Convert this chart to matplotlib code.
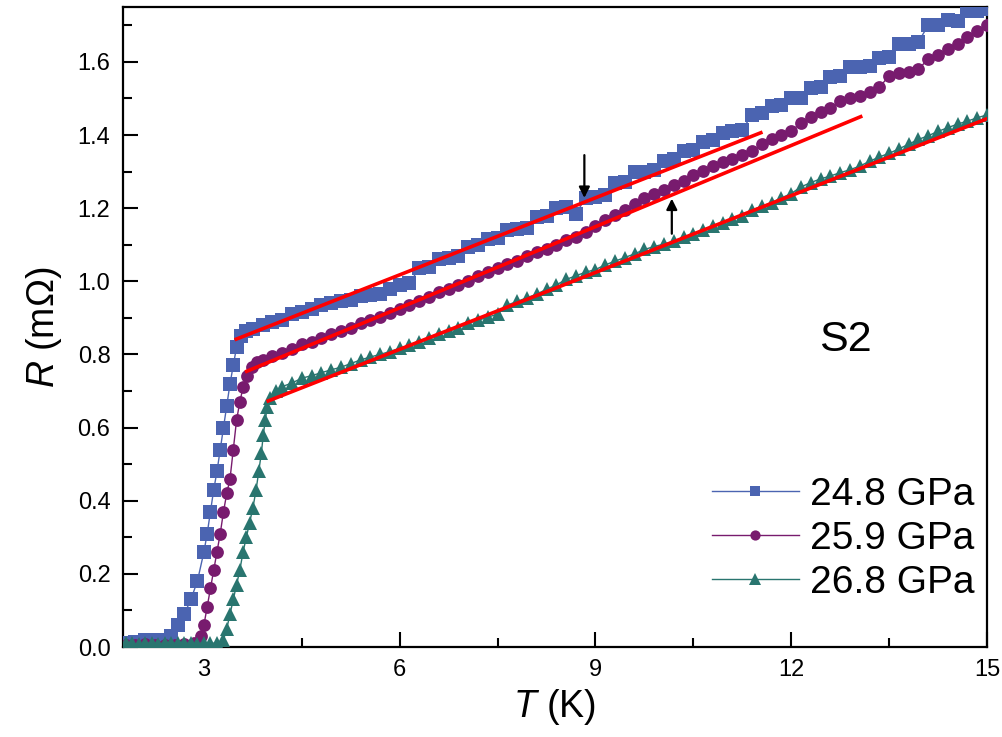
import matplotlib
matplotlib.use("Agg")
import matplotlib.pyplot as plt
from matplotlib.ticker import MultipleLocator

plt.rcParams['font.family'] = ['Liberation Sans', 'DejaVu Sans']
plt.rcParams['mathtext.fontset'] = 'custom'
plt.rcParams['mathtext.rm'] = 'Liberation Sans'
plt.rcParams['mathtext.it'] = 'Liberation Sans:italic'

# ---------------- data ----------------
labels = ["24.8 GPa", "25.9 GPa", "26.8 GPa"]
colors = ["#4B64B1", "#781B6E", "#29756F"]

T_248 = [1.80, 1.95, 2.10, 2.25, 2.40, 2.50, 2.60, 2.70, 2.80, 2.90, 3.00, 3.05, 3.10, 3.15,
         3.20, 3.25, 3.30, 3.35, 3.40, 3.45, 3.50, 3.57, 3.65,
         3.75, 3.90, 4.05, 4.20, 4.35, 4.50, 4.65, 4.80, 4.95, 5.10, 5.25, 5.40, 5.55, 5.70,
         5.85, 6.00, 6.15, 6.30, 6.45, 6.60, 6.75, 6.90, 7.05, 7.20, 7.35, 7.50, 7.65, 7.80,
         7.95, 8.10, 8.25, 8.40, 8.55, 8.70, 8.85, 9.00, 9.15, 9.30, 9.45, 9.60, 9.75, 9.90,
         10.05, 10.20, 10.35, 10.50, 10.65, 10.80, 10.95, 11.10, 11.25, 11.40, 11.55, 11.70,
         11.85, 12.00, 12.15, 12.30, 12.45, 12.60, 12.75, 12.90, 13.05, 13.20, 13.35, 13.50,
         13.65, 13.80, 13.95, 14.10, 14.25, 14.40, 14.55, 14.70, 14.85, 15.00]
R_248 = [0.010, 0.015, 0.020, 0.020, 0.020, 0.030, 0.060, 0.090, 0.130, 0.180, 0.260, 0.310,
         0.370, 0.430, 0.480, 0.540, 0.600, 0.660, 0.720, 0.770, 0.820, 0.850, 0.865,
         0.870, 0.880, 0.890, 0.895, 0.910, 0.915, 0.925, 0.935, 0.940, 0.947, 0.950, 0.960,
         0.962, 0.965, 0.980, 0.990, 0.995, 1.035, 1.040, 1.060, 1.065, 1.070, 1.095, 1.100,
         1.115, 1.118, 1.140, 1.142, 1.145, 1.175, 1.178, 1.200, 1.202, 1.185, 1.228, 1.230,
         1.235, 1.268, 1.272, 1.298, 1.300, 1.305, 1.330, 1.335, 1.355, 1.360, 1.380, 1.385,
         1.405, 1.410, 1.415, 1.455, 1.460, 1.478, 1.482, 1.500, 1.502, 1.528, 1.532, 1.558,
         1.562, 1.585, 1.587, 1.590, 1.610, 1.612, 1.648, 1.650, 1.655, 1.700, 1.702, 1.715,
         1.712, 1.738, 1.740, 1.745]

T_259 = [1.80, 1.95, 2.10, 2.25, 2.40, 2.55, 2.70, 2.85, 2.95, 3.00, 3.05, 3.10, 3.15, 3.20,
         3.25, 3.30, 3.35, 3.40, 3.45, 3.50, 3.55, 3.60, 3.66, 3.74, 3.82,
         3.90, 4.05, 4.20, 4.35, 4.50, 4.65, 4.80, 4.95, 5.10, 5.25, 5.40, 5.55, 5.70, 5.85,
         6.00, 6.15, 6.30, 6.45, 6.60, 6.75, 6.90, 7.05, 7.20, 7.35, 7.50, 7.65, 7.80, 7.95,
         8.10, 8.25, 8.40, 8.55, 8.70, 8.85, 9.00, 9.15, 9.30, 9.45, 9.60, 9.75, 9.90, 10.05,
         10.20, 10.35, 10.50, 10.65, 10.80, 10.95, 11.10, 11.25, 11.40, 11.55, 11.70, 11.85,
         12.00, 12.15, 12.30, 12.45, 12.60, 12.75, 12.90, 13.05, 13.20, 13.35, 13.50, 13.65,
         13.80, 13.95, 14.10, 14.25, 14.40, 14.55, 14.70, 14.85, 15.00]
R_259 = [0.005, 0.005, 0.008, 0.005, 0.006, 0.005, 0.007, 0.010, 0.030, 0.060, 0.110, 0.160,
         0.210, 0.260, 0.310, 0.370, 0.420, 0.460, 0.540, 0.620, 0.670, 0.710, 0.740, 0.765,
         0.780,
         0.785, 0.795, 0.805, 0.815, 0.828, 0.835, 0.845, 0.857, 0.865, 0.872, 0.885, 0.895,
         0.902, 0.912, 0.925, 0.935, 0.945, 0.958, 0.970, 0.978, 0.990, 1.000, 1.015, 1.025,
         1.035, 1.048, 1.055, 1.068, 1.080, 1.088, 1.100, 1.112, 1.122, 1.135, 1.150, 1.168,
         1.180, 1.195, 1.212, 1.228, 1.238, 1.250, 1.262, 1.275, 1.290, 1.302, 1.315, 1.325,
         1.335, 1.345, 1.357, 1.375, 1.390, 1.400, 1.412, 1.432, 1.448, 1.462, 1.475, 1.492,
         1.500, 1.508, 1.518, 1.530, 1.562, 1.570, 1.573, 1.580, 1.608, 1.620, 1.636, 1.650,
         1.668, 1.685, 1.700]

T_268 = [1.80, 1.90, 2.00, 2.10, 2.20, 2.30, 2.40, 2.50, 2.60, 2.70, 2.80, 2.90, 3.00, 3.10,
         3.20, 3.30, 3.35, 3.40, 3.45, 3.50, 3.55, 3.60, 3.65, 3.70, 3.75, 3.80, 3.84, 3.88,
         3.91, 3.94, 3.97, 4.02, 4.10,
         4.20, 4.35, 4.50, 4.65, 4.80, 4.95, 5.10, 5.25, 5.40, 5.55, 5.70, 5.85, 6.00, 6.15,
         6.30, 6.45, 6.60, 6.75, 6.90, 7.05, 7.20, 7.35, 7.50, 7.65, 7.80, 7.95, 8.10, 8.25,
         8.40, 8.55, 8.70, 8.85, 9.00, 9.15, 9.30, 9.45, 9.60, 9.75, 9.90, 10.05, 10.20,
         10.35, 10.50, 10.65, 10.80, 10.95, 11.10, 11.25, 11.40, 11.55, 11.70, 11.85, 12.00,
         12.15, 12.30, 12.45, 12.60, 12.75, 12.90, 13.05, 13.20, 13.35, 13.50, 13.65, 13.80,
         13.95, 14.10, 14.25, 14.40, 14.55, 14.70, 14.85, 15.00]
R_268 = [0.012, 0.010, 0.008, 0.010, 0.012, 0.009, 0.011, 0.010, 0.012, 0.010, 0.011, 0.009,
         0.012, 0.010, 0.011, 0.020, 0.050, 0.090, 0.130, 0.170, 0.210, 0.260, 0.300, 0.340,
         0.380, 0.430, 0.480, 0.530, 0.580, 0.620, 0.655, 0.680, 0.700,
         0.712, 0.722, 0.735, 0.742, 0.750, 0.758, 0.765, 0.775, 0.785, 0.793, 0.800, 0.808,
         0.817, 0.825, 0.835, 0.845, 0.855, 0.863, 0.873, 0.885, 0.893, 0.902, 0.910, 0.935,
         0.945, 0.955, 0.965, 0.978, 0.990, 1.005, 1.015, 1.025, 1.032, 1.045, 1.055, 1.065,
         1.075, 1.087, 1.095, 1.102, 1.110, 1.120, 1.130, 1.140, 1.150, 1.160, 1.170, 1.178,
         1.195, 1.205, 1.215, 1.228, 1.240, 1.258, 1.270, 1.280, 1.288, 1.297, 1.305, 1.315,
         1.328, 1.340, 1.350, 1.362, 1.375, 1.388, 1.398, 1.410, 1.420, 1.430, 1.438, 1.447,
         1.455]

# linear fits of the normal state (start / end points)
fit_T = [[3.47, 11.56], [3.63, 13.09], [3.96, 15.05]]
fit_R = [[0.840, 1.408], [0.752, 1.452], [0.671, 1.448]]

# arrows marking deviation from linearity: (T, R_tail, R_head)
arrow_T = [8.83, 10.17]
arrow_tail = [1.345, 1.130]
arrow_head = [1.228, 1.226]

xticks = [3, 6, 9, 12, 15]
yticks = [0.0, 0.2, 0.4, 0.6, 0.8, 1.0, 1.2, 1.4, 1.6]

# ---------------- figure ----------------
fig = plt.figure(figsize=(10.03, 7.37), dpi=100)
ax = fig.add_axes([123 / 1003, 90 / 737, 864 / 1003, 640 / 737])

series = [(T_248, R_248, 's', 9.6), (T_259, R_259, 'o', 9.2), (T_268, R_268, '^', 10.2)]
for (T, R, m, ms), c, lab in zip(series, colors, labels):
    ax.plot(T, R, color=c, marker=m, markersize=ms, markeredgewidth=0,
            linewidth=1.0, label=lab, zorder=3)

for ft, fr in zip(fit_T, fit_R):
    ax.plot(ft, fr, color='#FF0000', linewidth=2.6, zorder=4, solid_capstyle='butt')

for t, r0, r1 in zip(arrow_T, arrow_tail, arrow_head):
    ax.annotate('', xy=(t, r1), xytext=(t, r0),
                arrowprops=dict(arrowstyle='-|>', color='black', lw=1.6,
                                mutation_scale=16, shrinkA=0, shrinkB=0), zorder=5)

ax.set_xlim(1.76, 15.0)
ax.set_ylim(0.0, 1.75)
ax.set_xticks(xticks)
ax.set_xticklabels([str(v) for v in xticks])
ax.set_yticks(yticks)
ax.set_yticklabels([f"{v:.1f}" for v in yticks])
ax.xaxis.set_minor_locator(MultipleLocator(1.5))
ax.yaxis.set_minor_locator(MultipleLocator(0.1))
ax.tick_params(which='major', direction='in', length=10.5, width=1.5,
               labelsize=17, pad=9, top=False, right=False)
ax.tick_params(which='minor', direction='in', length=6.3, width=1.5, top=False, right=False)
for sp in ax.spines.values():
    sp.set_linewidth(1.6)

ax.set_xlabel('$T$ (K)', fontsize=27, labelpad=4)
ax.set_ylabel('$R$ (m\u03a9)', fontsize=27, labelpad=10)

ax.text(0.836, 0.48, 'S2', transform=ax.transAxes, fontsize=31,
        ha='center', va='center')

leg = ax.legend(loc='lower right', bbox_to_anchor=(0.985, 0.072), frameon=False,
                fontsize=28, handlelength=2.26, handletextpad=0.26, labelspacing=0.21,
                markerscale=0.8, borderaxespad=0.0, borderpad=0.0)

fig.savefig('out.png', dpi=100)
